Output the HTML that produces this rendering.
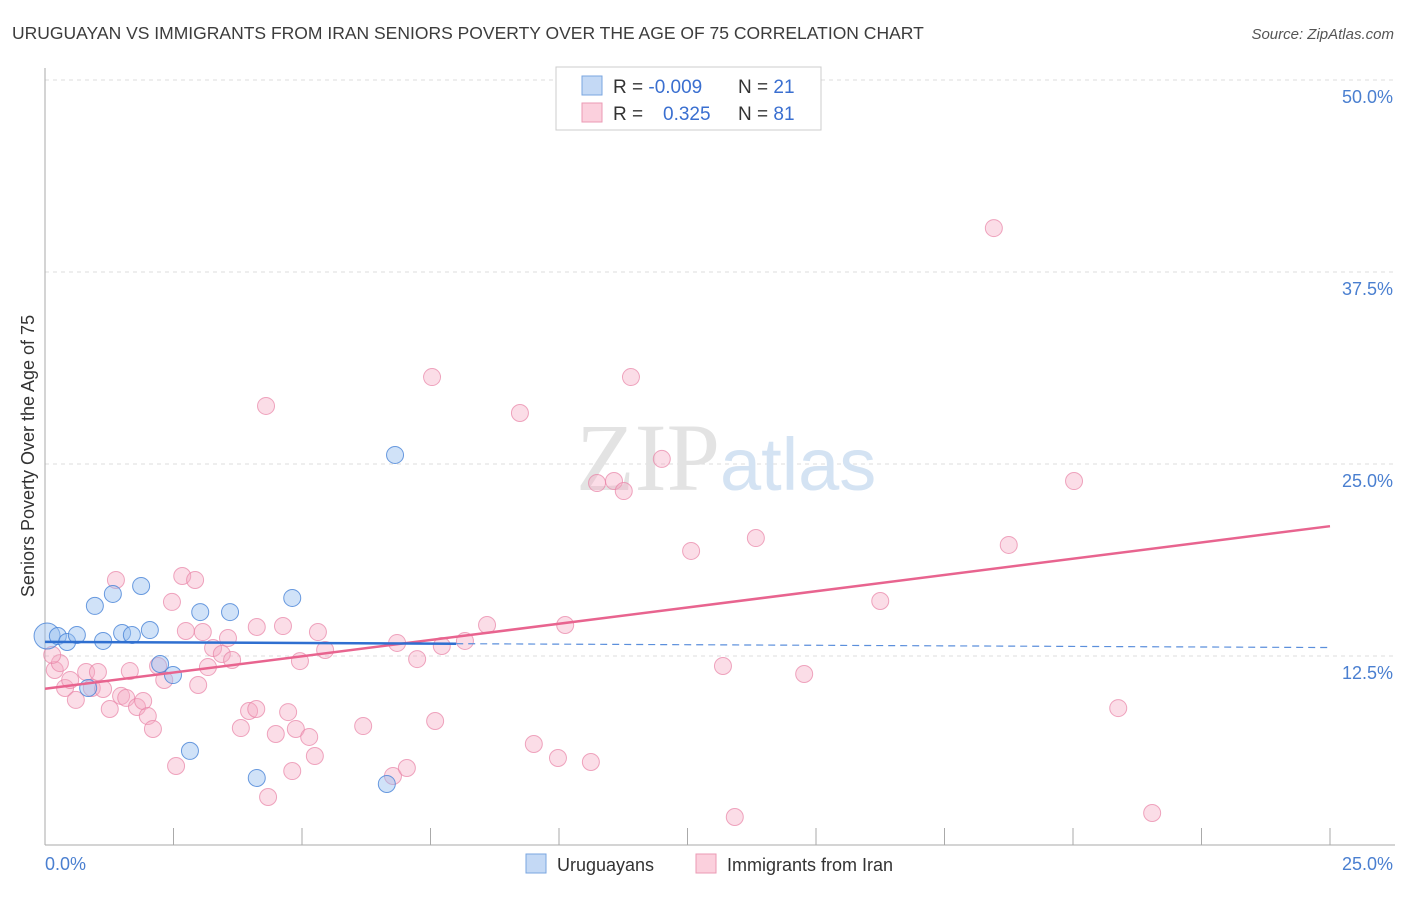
<!DOCTYPE html>
<html><head><meta charset="utf-8"><style>
body{margin:0;background:#fff;font-family:"Liberation Sans",sans-serif}
</style></head><body>
<svg width="1406" height="892" xmlns="http://www.w3.org/2000/svg">
<text x="12" y="39" font-size="17.5" fill="#3c3c3c">URUGUAYAN VS IMMIGRANTS FROM IRAN SENIORS POVERTY OVER THE AGE OF 75 CORRELATION CHART</text>
<text x="1394" y="39" font-size="15" fill="#555" font-style="italic" text-anchor="end">Source: ZipAtlas.com</text>
<g id="grid"></g>
<text x="720" y="490" font-size="96" font-family="Liberation Serif,serif" fill="#e3e3e3" text-anchor="end">ZIP</text>
<text x="720" y="490" font-size="74" fill="#d4e3f3">atlas</text>
<g id="pts"></g>
<g id="lines"></g>
<text transform="translate(34,456) rotate(-90)" font-size="18" fill="#333" text-anchor="middle">Seniors Poverty Over the Age of 75</text>
<text x="45" y="870" font-size="18" fill="#4a7fd0">0.0%</text>
<text x="1393" y="870" font-size="18" fill="#4a7fd0" text-anchor="end">25.0%</text>
<g>
<rect x="556" y="67" width="265" height="63" fill="#fff" stroke="#ccc"/>
<rect x="582" y="76" width="20" height="19" fill="#c4d9f5" stroke="#7aa6e0"/>
<rect x="582" y="103" width="20" height="19" fill="#fbd0dd" stroke="#eb9ab4"/>
<text x="613" y="93" font-size="19" fill="#333">R = <tspan fill="#3a6fd0">-0.009</tspan><tspan x="738">N = </tspan><tspan fill="#3a6fd0">21</tspan></text>
<text x="613" y="120" font-size="19" fill="#333">R = <tspan x="663" fill="#3a6fd0">0.325</tspan><tspan x="738">N = </tspan><tspan fill="#3a6fd0">81</tspan></text>
</g>
<g><rect x="526" y="854" width="20" height="19" fill="#c4d9f5" stroke="#7aa6e0"/><text x="557" y="871" font-size="18" fill="#333">Uruguayans</text></g>
<g><rect x="696" y="854" width="20" height="19" fill="#fbd0dd" stroke="#eb9ab4"/><text x="727" y="871" font-size="18" fill="#333">Immigrants from Iran</text></g>
</svg>
<script>
const blueX=[0.04,0.25,0.43,0.62,0.97,1.13,1.32,1.50,1.69,1.87,2.04,2.24,2.49,2.82,3.02,3.60,4.12,4.81,6.65,6.81,0.84];
const blueY=[13.8,13.8,13.41,13.87,15.76,13.48,16.54,14.0,13.87,17.06,14.19,11.98,11.26,6.32,15.36,15.36,4.56,16.28,4.17,25.59,10.42];
const pinkX=[0.19,0.29,0.14,0.39,0.49,0.60,0.80,1.03,0.91,1.13,1.26,1.38,1.48,1.58,1.65,1.79,1.91,2.00,2.10,2.20,2.32,2.47,2.55,2.67,2.74,2.92,2.98,3.07,3.17,3.27,3.44,3.56,3.64,3.81,3.97,4.11,4.12,4.30,4.34,4.49,4.63,4.73,4.81,4.88,4.96,5.14,5.25,5.31,5.45,6.19,6.77,6.85,7.04,7.24,7.53,7.59,7.72,8.17,8.60,9.24,9.51,9.98,10.12,10.62,10.74,11.07,11.26,11.40,12.00,12.57,13.19,13.42,13.83,14.77,16.25,18.46,18.75,20.02,20.88,21.54];
const pinkY=[11.59,12.04,12.57,10.42,10.94,9.64,11.46,11.46,10.42,10.35,9.05,17.45,9.90,9.77,11.52,9.18,9.57,8.59,7.75,11.85,10.94,16.02,5.34,17.71,14.13,17.45,10.61,14.06,11.78,13.02,12.63,13.67,12.24,7.81,8.92,9.05,14.39,28.78,3.32,7.42,14.45,8.85,5.01,7.75,12.17,7.23,5.99,14.06,12.89,7.94,4.69,13.35,5.21,12.30,30.66,8.27,13.15,13.48,14.52,28.32,6.77,5.86,14.52,5.60,23.76,23.89,23.24,30.66,25.33,19.34,11.85,2.02,20.18,11.33,16.08,40.36,19.73,23.89,9.11,2.28];
const yTicks=[12.5,25,37.5,50];
const xTicks=[0,2.5,5,7.5,10,12.5,15,17.5,20,22.5,25];
const NS='http://www.w3.org/2000/svg';
const sx=v=>45+v*51.4, sy=v=>848-v*15.36;
function mk(t,a,p){const e=document.createElementNS(NS,t);for(const k in a)e.setAttribute(k,a[k]);p.appendChild(e);return e;}
const grid=document.getElementById('grid');
yTicks.forEach(t=>{
  const l=mk('line',{x1:45,x2:1395,y1:sy(t),y2:sy(t),stroke:'#ddd','stroke-dasharray':'4,4'},grid);
  
  
  const tx=mk('text',{x:1393,y:sy(t)+23,'font-size':18,fill:'#4a7fd0','text-anchor':'end'},grid);
  tx.textContent=(t.toFixed(1))+'%';
  
  
});
mk('line',{x1:45,x2:45,y1:68,y2:845,stroke:'#aaa'},grid);
mk('line',{x1:45,x2:1395,y1:845,y2:845,stroke:'#aaa'},grid);
xTicks.forEach(t=>{
  const l=mk('line',{x1:sx(t),x2:sx(t),y1:828,y2:845,stroke:'#aaa'},grid);
  
  
});
const pts=document.getElementById('pts');
pinkX.forEach((x,i)=>{
  const c=mk('circle',{cx:sx(x),cy:sy(pinkY[i]),r:8.5,fill:'rgba(246,170,194,0.4)',stroke:'rgba(232,130,165,0.7)','stroke-width':1},pts);
  
  
});
blueX.forEach((x,i)=>{
  const c=mk('circle',{cx:sx(x),cy:sy(blueY[i]),r:i==0?13:8.5,fill:'rgba(150,190,240,0.45)',stroke:'rgba(70,130,215,0.8)','stroke-width':1},pts);
  
  
});
function reg(X,Y){const n=X.length;let mx=0,my=0;X.forEach((x,i)=>{mx+=x;my+=Y[i]});mx/=n;my/=n;let a=0,b=0;X.forEach((x,i)=>{a+=(x-mx)*(Y[i]-my);b+=(x-mx)**2});const s=a/b;return [my-s*mx,s];}
const lines=document.getElementById('lines');
const [pb,ps]=reg(pinkX,pinkY);
const pl=mk('line',{x1:sx(0),y1:sy(pb),x2:sx(25),y2:sy(pb+25*ps),stroke:'#e8648f','stroke-width':2.5},lines);


const [bb,bs]=reg(blueX,blueY);
const bl=mk('line',{x1:sx(0),y1:sy(bb),x2:sx(8),y2:sy(bb+8*bs),stroke:'#2f6fd0','stroke-width':2.5},lines);


const bd=mk('line',{x1:sx(8),y1:sy(bb+8*bs),x2:sx(25),y2:sy(bb+25*bs),stroke:'#5b8fdc','stroke-width':1.2,'stroke-dasharray':'7,5'},lines);


</script>
</body></html>
